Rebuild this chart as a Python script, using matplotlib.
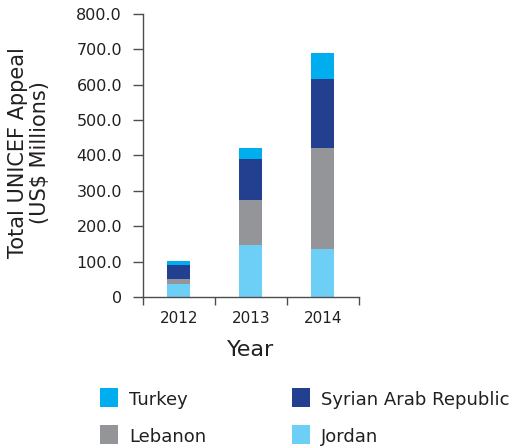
import matplotlib
matplotlib.use('Agg')
import matplotlib.pyplot as plt
from matplotlib.patches import Rectangle
import numpy as np

plt.rcParams['font.family'] = ['DejaVu Sans']

# Chart data (US$ millions)
years = ["2012", "2013", "2014"]
jordan = [37, 147, 136]
lebanon = [14, 127, 285]
syria = [40, 116, 195]
turkey = [11, 31, 74]

y_ticks = [0, 100, 200, 300, 400, 500, 600, 700, 800]
y_tick_labels = ["0", "100.0", "200.0", "300.0", "400.0", "500.0", "600.0", "700.0", "800.0"]

# stacking order bottom -> top, legend order is separate
series = [
    ("Jordan", jordan, "#6dcff6"),
    ("Lebanon", lebanon, "#939598"),
    ("Syrian Arab Republic", syria, "#233f8f"),
    ("Turkey", turkey, "#00aeef"),
]
legend_order = ["Turkey", "Syrian Arab Republic", "Lebanon", "Jordan"]

text_color = "#231f20"
axis_color = "#4d4d4f"

fig = plt.figure(figsize=(5.14, 4.47), dpi=100)
ax = fig.add_axes([0.278, 0.3356, 0.42, 0.6331])

x = np.arange(len(years)) + 0.5
bottom = np.zeros(len(years))
colors = {}
for name, vals, color in series:
    ax.bar(x, vals, width=0.32, bottom=bottom, color=color, linewidth=0)
    bottom += np.array(vals)
    colors[name] = color

ax.set_xlim(0, 3)
ax.set_ylim(0, 800)
ax.set_yticks(y_ticks)
ax.set_yticklabels(y_tick_labels)
ax.set_xticks(x)
ax.set_xticklabels(years)
ax.set_xticks(np.arange(len(years) + 1), minor=True)

for side in ["top", "right"]:
    ax.spines[side].set_visible(False)
for side in ["left", "bottom"]:
    ax.spines[side].set_color(axis_color)
    ax.spines[side].set_linewidth(1.0)

ax.tick_params(axis='y', which='major', direction='out', length=7, width=1.0,
               color=axis_color, labelsize=11.5, labelcolor=text_color, pad=8)
ax.tick_params(axis='x', which='major', length=0, labelsize=11,
               labelcolor=text_color, pad=10)
ax.tick_params(axis='x', which='minor', direction='out', length=6, width=1.0,
               color=axis_color)

ax.set_ylabel("Total UNICEF Appeal\n(US\\$ Millions)", fontsize=15,
              color=text_color, linespacing=1.15)
ax.yaxis.set_label_coords(-0.43, 0.51)
ax.set_xlabel("Year", fontsize=16, color=text_color, labelpad=10)

# Legend drawn by hand in two columns
W, H = 514, 447
legend_pos = {
    "Turkey": (100, 407),
    "Syrian Arab Republic": (292, 407),
    "Lebanon": (100, 444),
    "Jordan": (292, 444),
}
box = 19
for name in legend_order:
    px, py = legend_pos[name]
    fig.patches.append(Rectangle((px / W, (H - py) / H), 18 / W, box / H,
                                 transform=fig.transFigure, facecolor=colors[name],
                                 edgecolor='none'))
    fig.text((px + 29) / W, (H - py + 2) / H, name, fontsize=13, color=text_color,
             va='baseline', ha='left')

fig.savefig("out.png", dpi=100)
